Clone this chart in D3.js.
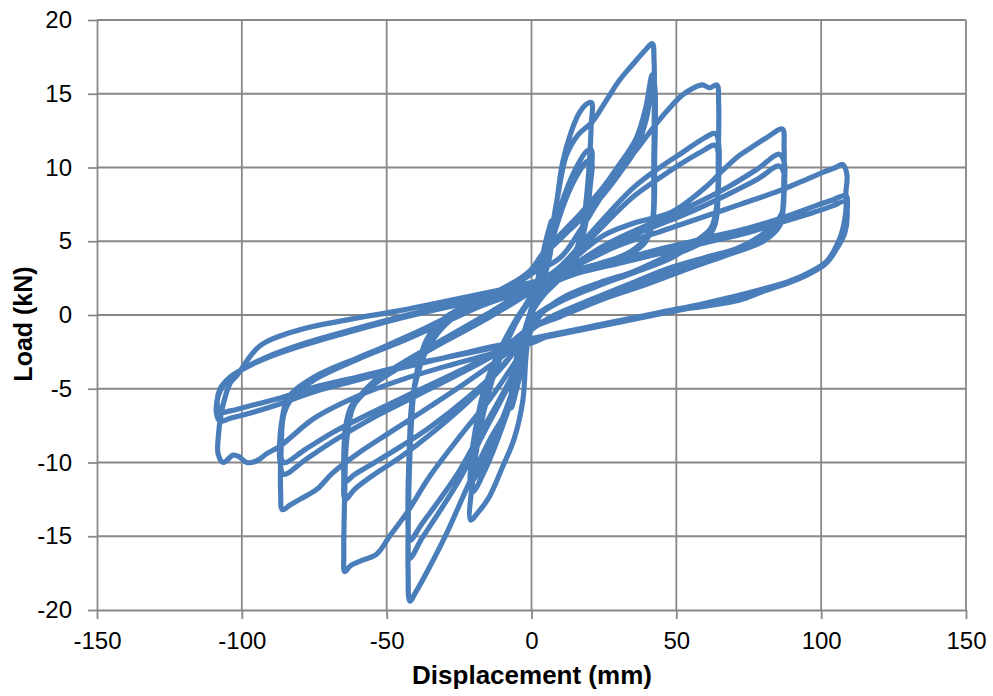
<!DOCTYPE html>
<html>
<head>
<meta charset="utf-8">
<script src="https://d3js.org/d3.v7.min.js"></script>
<style>
    body { margin: 0; background: #fff; }
    svg text { font-family: "Liberation Sans", Arial, sans-serif; fill: #000; }
</style>
</head>
<body>
<svg id="chart" width="993" height="696"></svg>
<script>
// Load vs displacement (mm, kN)

var xTicks = [-150, -100, -50, 0, 50, 100, 150]
var yTicks = [-20, -15, -10, -5, 0, 5, 10, 15, 20]

var cyc05a = [[0,0],[2,2.2],[4,4.2],[6,5.8],[7,6.4],[6.6,5],[5,3.3],[2.5,1.4],[0,0.2],[-2,-1.8],[-4,-4],[-6,-5.7],[-7,-6.3],[-6.6,-5],[-5,-3.2],[-2.5,-1.2],[0,0.3]]
var cyc05b = [[2,2],[4,3.8],[6,5.2],[7,5.6],[6.5,4.2],[4.5,2.6],[2,1],[0,0],[-2,-1.6],[-4,-3.6],[-6,-5],[-7,-5.5],[-6.4,-4.1],[-4.5,-2.4],[-2,-0.8],[0,0.5]]

var cyc20a = [[2,2],[4,3.6],[6.2,4.8],[8.5,7.4],[10.7,10.3],[13.5,12.3],[16.5,13.7],[19,14.3],[20.7,14.4],[20.6,12.8],[19.8,9.8],[18.4,7],[16.2,4.8],[12,3.2],[6,2.1],[1,0.6],[-1.7,-2.4],[-3,-5.8],[-6,-8.4],[-10,-10.3],[-14.5,-12.3],[-18.5,-13.4],[-21,-13.9],[-20.2,-11],[-18,-8],[-15,-5.4],[-12,-3.5],[-8,-1.6],[-4,0],[0,1.4]]
var cyc20b = [[3,2.6],[7,5.4],[11.5,8.2],[15.5,10],[19,11.1],[20.6,11.2],[20.3,9.2],[18.8,6.5],[15.5,4],[10,2.6],[4,1.5],[0,0.3],[-3,-2.8],[-7,-5.8],[-12,-8.6],[-16.5,-10.7],[-20.3,-12],[-21.2,-11.3],[-19.6,-8.4],[-16,-5],[-11,-2.6],[-5,-0.4],[0,1.2]]
var cyc20c = [[3,2.4],[7,5],[11.5,7.7],[15.5,9.4],[19,10.4],[20.6,10.5],[20.2,8.6],[18.5,6],[15,3.7],[9.5,2.4],[4,1.3],[0,0.1],[-3,-2.6],[-7,-5.4],[-12,-8],[-16.5,-10],[-20.3,-11.2],[-21,-10.6],[-19.4,-7.8],[-15.8,-4.7],[-11,-2.4],[-5,-0.2],[0,1.3]]

var cyc42a = [[3,2.8],[6,4.8],[9,8],[12,10.8],[16,12.2],[21,13.1],[26,14.6],[30.3,15.9],[35,17],[39,17.9],[41.7,18.4],[42.3,17.3],[42.4,14],[42.2,10],[41.8,6.5],[39.5,5.2],[35,4.4],[30,3.9],[20,3.3],[10,2.7],[3,1.6],[0,0.4],[-2,-1.6],[-4,-4.2],[-8,-6.3],[-14.5,-8.5],[-22,-11.6],[-29.3,-14.8],[-35.5,-17.2],[-40,-18.8],[-42,-19.4],[-42.6,-17.4],[-42.4,-12.5],[-41.5,-7.5],[-40,-4.3],[-36,-1.6],[-30,-0.2],[-20,0.9],[-10,1.8],[-3,2.6],[0,3.1]]
var cyc42b = [[4,4.2],[10.7,5.6],[17,6.9],[24.5,8.6],[30,10.1],[36.2,12],[39.5,14.1],[41.7,16.3],[42.6,15.4],[42.5,11],[42,6.8],[39.5,5.1],[33,4.1],[20,3.2],[8,2.3],[2,1.2],[-1,-1],[-4,-3.2],[-9,-5.2],[-17,-8.2],[-25,-11.2],[-32,-13.4],[-38,-15.2],[-42,-16.5],[-42.6,-14.6],[-42.2,-9.5],[-41,-5.6],[-37,-2.7],[-30,-0.6],[-20,0.8],[-10,1.7],[0,2.8]]
var cyc42c = [[4,4],[10.7,5.3],[17,6.5],[24.5,8.1],[30,9.5],[36.2,11.3],[39.5,13.2],[41.8,15.3],[42.6,14.6],[42.5,10.5],[42,6.6],[39.5,5],[33,4],[20,3.1],[8,2.2],[2,1.1],[-1,-1],[-4,-3],[-9,-5],[-17,-7.8],[-25,-10.6],[-32,-12.6],[-38,-14.2],[-42,-15.3],[-42.6,-13.8],[-42.2,-9.2],[-41,-5.5],[-37,-2.7],[-30,-0.7],[-20,0.7],[-10,1.7],[0,2.8]]

var cyc64a = [[10,3.9],[17,5.8],[23.4,7.8],[30,9.7],[37,11.4],[44,13.2],[52,14.9],[56,15.4],[59,15.6],[61.5,15.4],[64,15.6],[64.6,14.4],[64.5,11],[64,7.5],[62,5.9],[56,4.9],[48.6,3.9],[37,3],[25,2.3],[12,1.3],[4,0.2],[0,-1],[-3,-2.4],[-7,-3.6],[-14,-5.6],[-25,-8.3],[-35,-10.9],[-43,-13.4],[-49,-15],[-53.4,-16.2],[-59.3,-16.7],[-62.5,-17],[-64.5,-17.4],[-64.8,-16.2],[-64.5,-12.3],[-63.8,-8.5],[-61.5,-6.2],[-55,-4.6],[-45,-3.3],[-30,-1.6],[-15,0.1],[0,1.9]]
var cyc64b = [[10,3.3],[22,5.9],[35,8.6],[45,10.1],[52,11],[58,11.8],[63.5,12.3],[64.7,11.4],[64.4,8.5],[63.5,6.3],[60,5.3],[50,4.3],[37,3.1],[22,2],[8,0.8],[0,-0.3],[-4,-1.9],[-10,-3.5],[-22,-5.9],[-35,-8.1],[-45,-9.6],[-55,-10.9],[-61,-11.8],[-64.3,-12.5],[-64.8,-11],[-64.3,-8],[-62,-6.3],[-55,-4.8],[-45,-3.5],[-30,-1.8],[-15,-0.2],[0,1.6]]
var cyc64c = [[10,3.1],[22,5.5],[35,8],[45,9.4],[52,10.3],[58,11],[63.5,11.5],[64.6,10.7],[64.3,8],[63.3,6.1],[60,5.1],[50,4.1],[37,3],[22,1.9],[8,0.7],[0,-0.4],[-4,-1.9],[-10,-3.4],[-22,-5.6],[-35,-7.6],[-45,-8.9],[-55,-10.1],[-61,-10.8],[-64.3,-11.3],[-64.7,-10],[-64.2,-7.6],[-62,-6.1],[-55,-4.7],[-45,-3.4],[-30,-1.7],[-15,-0.1],[0,1.6]]

var cyc86a = [[12,3.4],[25,5.4],[35,6.2],[48.6,7],[60.3,8.7],[66,9.8],[71,10.7],[76.2,11.4],[81,12],[86.6,12.6],[87.2,11.4],[87.1,9],[86.6,7],[83,6],[72,4.6],[60,3.9],[48,3.2],[35,2.2],[20,1],[6,-0.2],[0,-1],[-10,-2.8],[-22,-4.5],[-35,-6.2],[-50,-8.1],[-60,-9.4],[-68.6,-10.7],[-74,-11.8],[-80,-12.5],[-83.5,-12.9],[-86,-13.2],[-86.6,-12],[-86.4,-9],[-85.3,-6.6],[-80,-5],[-70,-3.8],[-55,-2.5],[-40,-1.2],[-25,0.2],[-10,1.2],[0,2]]
var cyc86b = [[12,3.1],[25,4.7],[40,6.1],[55,7.4],[68,8.7],[78,9.9],[85.5,10.9],[87.2,10.4],[87,8],[86,6.3],[80,5.2],[68,4.3],[55,3.4],[40,2.3],[25,1.2],[10,0],[0,-0.8],[-12,-2.6],[-25,-4],[-40,-5.5],[-55,-7],[-68,-8.5],[-78,-9.8],[-85.5,-10.8],[-86.8,-10],[-86.3,-7.5],[-84,-5.8],[-75,-4.4],[-60,-3],[-45,-1.8],[-30,-0.5],[-15,0.8],[0,1.8]]
var cyc86c = [[12,3],[25,4.5],[40,5.8],[55,7],[68,8.2],[78,9.2],[85.5,10.1],[87.2,9.6],[86.9,7.6],[85.8,6.1],[80,5],[68,4.1],[55,3.2],[40,2.1],[25,1.1],[10,-0.1],[0,-0.9],[-12,-2.5],[-25,-3.8],[-40,-5.2],[-55,-6.6],[-68,-7.9],[-78,-9.1],[-85.5,-10],[-86.7,-9.3],[-86.2,-7.2],[-84,-5.6],[-75,-4.2],[-60,-2.9],[-45,-1.7],[-30,-0.4],[-15,0.8],[0,1.8]]

var cyc108a = [[15,3.3],[30,4.7],[45,5.7],[60,6.7],[72,7.5],[86.6,8.5],[95,9.2],[101,9.7],[105,10],[107.5,10.2],[108.9,9.5],[108.5,8.2],[108.6,7.2],[107,5.5],[104,4.2],[101.7,3.5],[95,2.7],[89,2.2],[80,1.6],[71.7,1],[60,0.6],[48.6,0.3],[35,-0.2],[20,-0.8],[5,-1.5],[0,-1.9],[-15,-2.7],[-30,-3.5],[-45,-4.4],[-60,-5.5],[-75,-7],[-86.9,-8.9],[-91.4,-9.4],[-95,-9.9],[-98.3,-10],[-101,-9.6],[-103,-9.5],[-106.4,-10],[-108.2,-9.4],[-108,-8],[-107.3,-6.9],[-106.5,-6.1],[-104,-4.6],[-101.7,-4.1],[-93.8,-2.1],[-80,-1],[-62.8,-0.3],[-45.5,0.3],[-28,1],[-11,1.7],[0,2.2]]
var cyc108b = [[15,2.9],[30,3.7],[45,4.5],[60,5.2],[75,5.9],[86.6,6.6],[98,7.4],[104,7.8],[108.6,8.1],[109,7.1],[108.3,5.8],[106,4.9],[101.7,3.6],[95,2.8],[89,2.3],[75,1.5],[60,0.8],[45,0.2],[30,-0.4],[15,-1],[0,-1.6],[-15,-2.2],[-30,-2.9],[-45,-3.6],[-60,-4.4],[-75,-5.2],[-88,-6.1],[-98,-6.7],[-104,-7],[-107.5,-7.2],[-108.8,-6.6],[-108,-5.4],[-105,-4.4],[-100,-3.7],[-92,-2.9],[-78,-1.9],[-62,-1],[-45,-0.1],[-30,0.6],[-15,1.3],[0,2]]
var cyc108c = [[15,2.8],[30,3.5],[45,4.2],[60,4.9],[75,5.6],[86.6,6.3],[98,7],[104,7.4],[108.4,7.7],[109,6.8],[108.2,5.6],[106,4.7],[101.7,3.5],[95,2.7],[89,2.2],[75,1.4],[60,0.7],[45,0.1],[30,-0.5],[15,-1.1],[0,-1.7],[-15,-2.3],[-30,-2.9],[-45,-3.5],[-60,-4.2],[-75,-4.9],[-88,-5.7],[-98,-6.2],[-104,-6.5],[-107.5,-6.6],[-108.5,-6],[-107.5,-5],[-104,-4.2],[-98,-3.5],[-90,-2.8],[-78,-2],[-62,-1.1],[-45,-0.2],[-30,0.5],[-15,1.1],[0,1.6]]

// whole test record in loading order
var loadPath = [].concat(cyc05a, cyc05b, cyc20a, cyc20b, cyc20c, cyc42a, cyc42b, cyc42c,
    cyc64a, cyc64b, cyc64c, cyc86a, cyc86b, cyc86c, cyc108a, cyc108b, cyc108c)

var svg = d3.select('#chart')

var x = d3.scaleLinear().domain([-150, 150]).range([97, 966])
var y = d3.scaleLinear().domain([-20, 20]).range([610, 20])

var gridColor = '#888888'

// gridlines
svg.append('g')
    .selectAll('line')
    .data(xTicks.filter(d => d !== -150))
    .join('line')
    .attr('x1', d => x(d)).attr('x2', d => x(d))
    .attr('y1', y(20)).attr('y2', y(-20))
    .attr('stroke', gridColor).attr('stroke-width', 1.8)

svg.append('g')
    .selectAll('line')
    .data(yTicks.filter(d => d !== -20))
    .join('line')
    .attr('x1', x(-150)).attr('x2', x(150))
    .attr('y1', d => y(d)).attr('y2', d => y(d))
    .attr('stroke', gridColor).attr('stroke-width', 1.8)

// axes
svg.append('g')
    .attr('transform', `translate(0,${y(-20)})`)
    .call(d3.axisBottom(x).tickValues(xTicks).tickFormat(d => String(d))
        .tickSizeInner(9).tickSizeOuter(0).tickPadding(13))

svg.append('g')
    .attr('transform', `translate(${x(-150)},0)`)
    .call(d3.axisLeft(y).tickValues(yTicks).tickFormat(d => String(d))
        .tickSizeInner(9).tickSizeOuter(0).tickPadding(16))

svg.selectAll('.domain, .tick line')
    .attr('stroke', gridColor).attr('stroke-width', 1.8)

svg.selectAll('.tick text')
    .style('font-size', '24px')
    .style('font-family', '"Liberation Sans", Arial, sans-serif')
    .attr('fill', '#000')

// the curve
var line = d3.line()
    .x(d => x(d[0]))
    .y(d => y(d[1]))
    .curve(d3.curveCatmullRom.alpha(0.5))

svg.append('path')
    .datum(loadPath)
    .attr('d', line)
    .attr('fill', 'none')
    .attr('stroke', '#4a7ebb')
    .attr('stroke-width', 5.2)
    .attr('stroke-linejoin', 'round')
    .attr('stroke-linecap', 'round')

// axis titles
svg.append('text')
    .attr('x', 532).attr('y', 684)
    .attr('text-anchor', 'middle')
    .style('font-size', '26px').style('font-weight', 'bold')
    .text('Displacement (mm)')

svg.append('text')
    .attr('transform', 'translate(32,324) rotate(-90)')
    .attr('text-anchor', 'middle')
    .style('font-size', '25px').style('font-weight', 'bold')
    .text('Load (kN)')
</script>
</body>
</html>
